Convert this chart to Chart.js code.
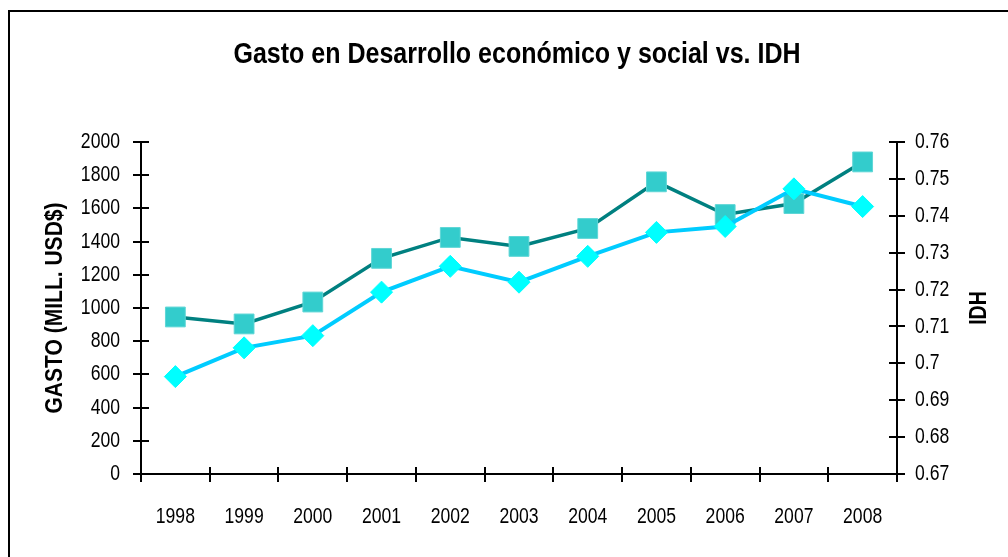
<!DOCTYPE html>
<html>
<head>
<meta charset="utf-8">
<script src="https://cdn.jsdelivr.net/npm/chart.js@4/dist/chart.umd.min.js"></script>
<style>
  html, body { margin: 0; padding: 0; background: #fff; }
  #wrap { position: relative; width: 1008px; height: 557px; }
</style>
</head>
<body>
<div id="wrap"><canvas id="c" width="1008" height="557"></canvas></div>
<script>
const years = ['1998','1999','2000','2001','2002','2003','2004','2005','2006','2007','2008'];
const gasto = [946, 904, 1036, 1299, 1425, 1371, 1479, 1760, 1563, 1629, 1880];
const idh = [0.6964, 0.7042, 0.7075, 0.7193, 0.7263, 0.7220, 0.7290, 0.7355, 0.7371, 0.7473, 0.7425];
const chartTitle = 'Gasto en Desarrollo económico y social vs. IDH';
const leftTitle = 'GASTO (MILL. USD$)';
const rightTitle = 'IDH';

const FONT = "'Liberation Sans', Arial, sans-serif";
const NARROW = 0.8; // emulate a condensed face

const framePlugin = {
  id: 'frame',
  beforeDraw(chart) {
    const ctx = chart.ctx;
    ctx.save();
    ctx.fillStyle = '#fff';
    ctx.fillRect(0, 0, chart.width, chart.height);
    ctx.strokeStyle = '#000';
    ctx.lineWidth = 2;
    ctx.strokeRect(9, 11, 1100, 700);
    ctx.restore();
  }
};

function narrowText(ctx, text, x, y, align, sx, rot) {
  ctx.save();
  ctx.translate(x, y);
  if (rot) ctx.rotate(rot);
  ctx.scale(sx, 1);
  ctx.textAlign = align;
  ctx.fillText(text, 0, 0);
  ctx.restore();
}

const textPlugin = {
  id: 'texts',
  afterDraw(chart) {
    const ctx = chart.ctx;
    const x = chart.scales.x, y = chart.scales.y, y1 = chart.scales.y1;
    ctx.save();
    // crossing tick marks
    ctx.strokeStyle = '#000';
    ctx.lineWidth = 2;
    ctx.beginPath();
    y.ticks.forEach(t => {
      const py = Math.round(y.getPixelForValue(t.value));
      ctx.moveTo(y.right - 8, py); ctx.lineTo(y.right + 8, py);
    });
    y1.ticks.forEach(t => {
      const py = Math.round(y1.getPixelForValue(t.value));
      ctx.moveTo(y1.left - 8, py); ctx.lineTo(y1.left + 8, py);
    });
    const step = x.getPixelForValue(1) - x.getPixelForValue(0);
    for (let i = 0; i <= years.length; i++) {
      const px = Math.round(x.getPixelForValue(i) - step / 2);
      ctx.moveTo(px, x.top - 7); ctx.lineTo(px, x.top + 8);
    }
    ctx.stroke();

    ctx.fillStyle = '#000';
    ctx.textBaseline = 'middle';
    // tick labels
    ctx.font = "22px " + FONT;
    y.ticks.forEach(t => {
      narrowText(ctx, String(t.value), 120, y.getPixelForValue(t.value), 'right', NARROW);
    });
    y1.ticks.forEach(t => {
      const lbl = String(parseFloat(Number(t.value).toFixed(2)));
      narrowText(ctx, lbl, 915, y1.getPixelForValue(t.value), 'left', NARROW);
    });
    years.forEach((lbl, i) => {
      narrowText(ctx, lbl, x.getPixelForValue(i), 517, 'center', NARROW);
    });

    // chart title
    ctx.font = "bold 29px " + FONT;
    const tw = ctx.measureText(chartTitle).width;
    narrowText(ctx, chartTitle, 517, 55, 'center', 567 / tw);

    // axis titles (rotated, reading bottom to top)
    ctx.font = "bold 23px " + FONT;
    const cy = (chart.chartArea.top + chart.chartArea.bottom) / 2;
    const lw = ctx.measureText(leftTitle).width;
    narrowText(ctx, leftTitle, 56, 308, 'center', 211 / lw, -Math.PI / 2);
    narrowText(ctx, rightTitle, 980, 308, 'center', 0.85, -Math.PI / 2);
    ctx.restore();
  }
};

new Chart(document.getElementById('c'), {
  type: 'line',
  data: {
    labels: years,
    datasets: [
      {
        label: 'Gasto',
        data: gasto,
        yAxisID: 'y',
        borderColor: '#008080',
        borderWidth: 3.5,
        pointStyle: 'rect',
        pointRadius: 14,
        pointHoverRadius: 14,
        pointBackgroundColor: '#33CCCC',
        pointBorderColor: '#5ED6D6',
        pointBorderWidth: 1,
        tension: 0,
        order: 2
      },
      {
        label: 'IDH',
        data: idh,
        yAxisID: 'y1',
        borderColor: '#00CCFF',
        borderWidth: 4,
        pointStyle: 'rectRot',
        pointRadius: 11,
        pointHoverRadius: 11,
        pointBackgroundColor: '#00FFFF',
        pointBorderColor: '#00FFFF',
        pointBorderWidth: 1,
        tension: 0,
        order: 1
      }
    ]
  },
  options: {
    responsive: false,
    animation: false,
    layout: { padding: { top: 142, left: 0, right: 0, bottom: 0 } },
    plugins: {
      legend: { display: false },
      tooltip: { enabled: false },
      title: { display: false }
    },
    scales: {
      x: {
        offset: true,
        grid: { display: true, drawOnChartArea: false, drawTicks: false, offset: true },
        border: { display: true, color: '#000', width: 2 },
        ticks: { display: false, autoSkip: false },
        afterFit(s) { s.height = 557 - 474; }
      },
      y: {
        position: 'left',
        min: 0, max: 2000,
        grid: { display: true, drawOnChartArea: false, drawTicks: false },
        border: { display: true, color: '#000', width: 2 },
        ticks: { display: false, stepSize: 200 },
        afterFit(s) { s.width = 141; }
      },
      y1: {
        position: 'right',
        min: 0.67, max: 0.76,
        grid: { display: true, drawOnChartArea: false, drawTicks: false },
        border: { display: true, color: '#000', width: 2 },
        ticks: { display: false, stepSize: 0.01 },
        afterFit(s) { s.width = 1008 - 897; }
      }
    }
  },
  plugins: [framePlugin, textPlugin]
});
</script>
</body>
</html>
